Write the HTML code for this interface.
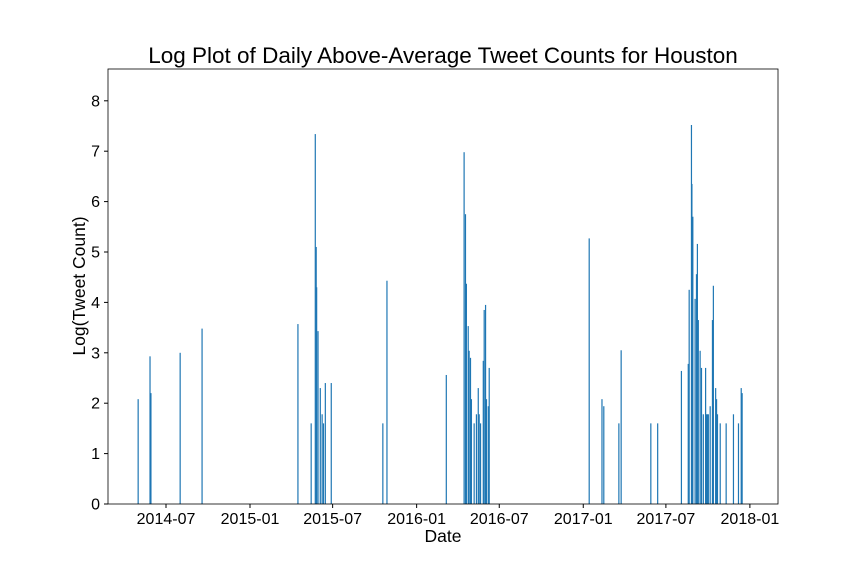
<!DOCTYPE html>
<html><head><meta charset="utf-8"><style>
body{margin:0;background:#fff;}
svg text{font-family:"Liberation Sans","DejaVu Sans",sans-serif;fill:#000;}
</style></head><body>
<svg id="chart" width="864" height="576" xmlns="http://www.w3.org/2000/svg">
<rect width="864" height="576" fill="#fff"/>
<text x="443" y="63" text-anchor="middle" font-size="22.5">Log Plot of Daily Above-Average Tweet Counts for Houston</text>
<g id="bars"></g>
<g id="axes"></g>
<rect x="108" y="69" width="670" height="435" fill="none" stroke="#000" stroke-width="0.8"/>
<text x="443" y="542" text-anchor="middle" font-size="17.5">Date</text>
<text x="0" y="0" transform="translate(85,286) rotate(-90)" text-anchor="middle" font-size="17.5">Log(Tweet Count)</text>
</svg>
<script>
// days since 2014-07-01
const dayOffsets=[-61,-35,-33,31,79,289,318,327,329,330,333,338,342,345,349,362,475,484,614,653,656,658,662,664,667,669,675,680,684,686,689,695,697,700,702,706,708,927,955,959,992,997,1062,1077,1129,1144,1146,1151,1152,1154,1159,1162,1164,1166,1170,1173,1177,1182,1184,1186,1188,1192,1197,1199,1204,1206,1208,1214,1227,1243,1254,1260,1262];
const logCounts=[2.08,2.93,2.2,3.0,3.48,3.57,1.6,7.34,5.1,4.3,3.43,2.3,1.78,1.6,2.4,2.4,1.6,4.43,2.56,6.98,5.75,4.37,3.53,3.04,2.9,2.08,1.6,1.78,2.3,1.78,1.6,2.84,3.85,3.95,2.08,1.94,2.7,5.27,2.08,1.94,1.6,3.05,1.6,1.6,2.64,2.78,4.25,7.52,6.35,5.7,4.07,4.56,5.16,3.65,3.04,2.7,1.78,2.7,1.78,1.78,1.78,1.94,3.65,4.33,2.3,2.08,1.78,1.6,1.6,1.78,1.6,2.3,2.2];
const xTickDays=[0,184,365,549,730,914,1095,1279];
const xTickLabels=["2014-07","2015-01","2015-07","2016-01","2016-07","2017-01","2017-07","2018-01"];
const yTicks=[0,1,2,3,4,5,6,7,8];
const ns="http://www.w3.org/2000/svg";
const x0=166,pxPerDay=84/184,yBase=504,pxPerUnit=50.4;
const xs=d=>x0+d*pxPerDay;
const ys=v=>yBase-v*pxPerUnit;
const bars=document.getElementById('bars'),axes=document.getElementById('axes');
dayOffsets.forEach((d,i)=>{
  const r=document.createElementNS(ns,'rect');
  
  
  r.setAttribute('x',xs(d)-0.6);r.setAttribute('width',1.2);
  r.setAttribute('y',ys(logCounts[i]));r.setAttribute('height',yBase-ys(logCounts[i]));
  r.setAttribute('fill','#1f77b4');bars.appendChild(r);
});
xTickDays.forEach((d,i)=>{
  const l=document.createElementNS(ns,'line');
  
  
  l.setAttribute('x1',xs(d));l.setAttribute('x2',xs(d));l.setAttribute('y1',504);l.setAttribute('y2',508);
  l.setAttribute('stroke','#000');axes.appendChild(l);
  const t=document.createElementNS(ns,'text');
  
  
  t.setAttribute('x',xs(d));t.setAttribute('y',524);t.setAttribute('text-anchor','middle');t.setAttribute('font-size','16');
  t.textContent=xTickLabels[i];axes.appendChild(t);
});
yTicks.forEach(v=>{
  const l=document.createElementNS(ns,'line');
  
  
  l.setAttribute('x1',104);l.setAttribute('x2',108);l.setAttribute('y1',ys(v));l.setAttribute('y2',ys(v));
  l.setAttribute('stroke','#000');axes.appendChild(l);
  const t=document.createElementNS(ns,'text');
  
  
  t.setAttribute('x',100);t.setAttribute('y',ys(v)+5.5);t.setAttribute('text-anchor','end');t.setAttribute('font-size','16');
  t.textContent=v;axes.appendChild(t);
});
</script>
</body></html>
